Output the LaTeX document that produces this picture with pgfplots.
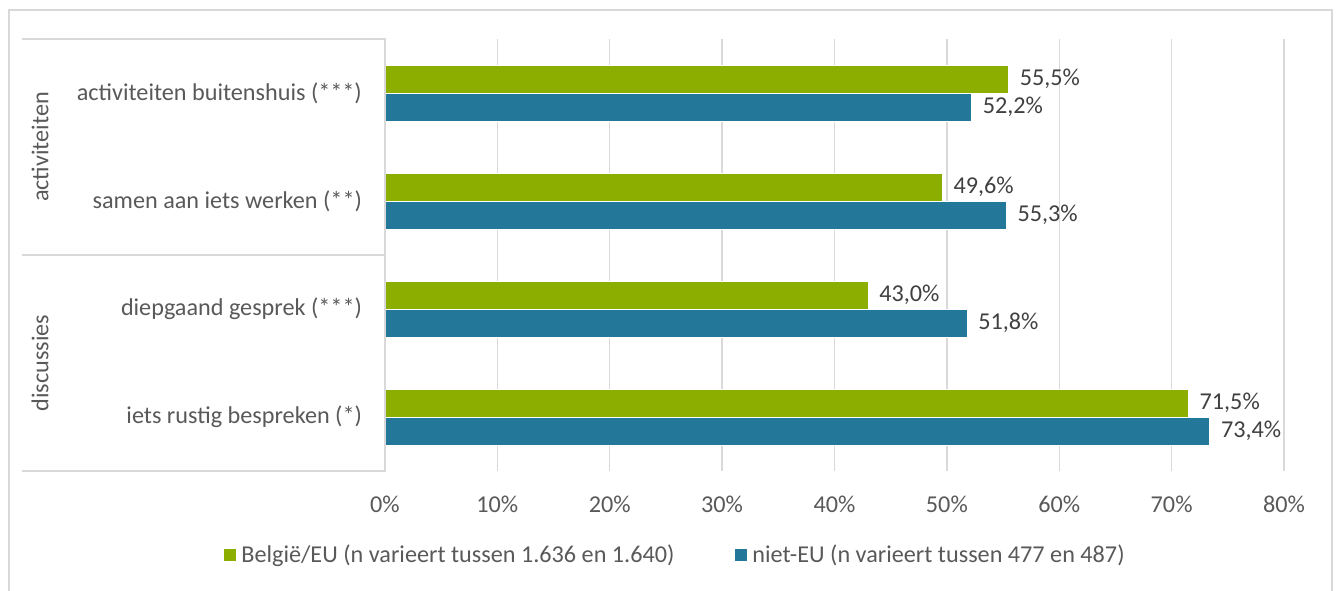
\documentclass[border=0pt]{standalone}
\usepackage{pgfplots}
\pgfplotsset{compat=1.18}
\usepackage{fontspec}
\setmainfont{Carlito}
\definecolor{cgreen}{HTML}{8BAE00}
\definecolor{cblue}{HTML}{237799}
\definecolor{ctext}{HTML}{595959}
\definecolor{clabel}{HTML}{404040}
\definecolor{cgrid}{HTML}{D9D9D9}
\newcommand{\cfont}{\fontsize{12.1}{14.5}\selectfont}
\begin{document}
\begin{tikzpicture}
\begin{axis}[
  xbar,
  scale only axis,
  width=449.5pt, height=216pt,
  xmin=0, xmax=80,
  ymin=-0.5, ymax=3.5,
  bar width=14pt,
  xtick={0,10,...,80},
  xticklabels={0\%,10\%,20\%,30\%,40\%,50\%,60\%,70\%,80\%},
  ytick={0,1,2,3},
  yticklabels={iets rustig bespreken (*), diepgaand gesprek (***), samen aan iets werken (**), activiteiten buitenshuis (***)},
  major tick length=0pt,
  axis line style={draw=none},
  xmajorgrids,
  major grid style={cgrid, line width=0.75pt},
  tick label style={font=\cfont, text=ctext},
  xticklabel style={yshift=-9pt},
  yticklabel style={xshift=-8pt},
  clip=false,
  point meta=x,
  nodes near coords={\pgfmathprintnumber[fixed,fixed zerofill,precision=1,use comma,assume math mode=true]{\pgfplotspointmeta}\%},
  nodes near coords align=horizontal,
  every node near coord/.append style={font=\cfont, text=clabel, anchor=west, xshift=2pt},
  legend columns=2,
  legend cell align=left,
  legend image code/.code={\fill[#1] (0pt,-3.25pt) rectangle (6.5pt,3.25pt);},
  legend style={draw=none, fill=none, at={(axis description cs:0.3237,-0.1944)}, anchor=center, font=\cfont, text=ctext,
    /tikz/every even column/.append style={column sep=28pt}},
]
\addplot[fill=cgreen, draw=white, line width=0.5pt, bar shift=7pt] coordinates {(71.5,0) (43.0,1) (49.6,2) (55.5,3)};
\addlegendentry{België/EU (n varieert tussen 1.636 en 1.640)}
\addplot[fill=cblue, draw=white, line width=0.5pt, bar shift=-7pt] coordinates {(73.4,0) (51.8,1) (55.3,2) (52.2,3)};
\addlegendentry{niet-EU (n varieert tussen 477 en 487)}
\coordinate (bl) at (rel axis cs:0,0);
\coordinate (tl) at (rel axis cs:0,1);
\coordinate (tr) at (rel axis cs:1,1);
\coordinate (br) at (rel axis cs:1,0);
\draw[cgrid, line width=0.75pt] ([xshift=-181.5pt]rel axis cs:0,1) -- (rel axis cs:0,1) -- (rel axis cs:0,0) -- ([xshift=-181.5pt]rel axis cs:0,0);
\draw[cgrid, line width=0.75pt] ([xshift=-181.5pt]axis cs:0,1.5) -- (axis cs:0,1.5);
\node[rotate=90, font=\cfont, text=ctext] at ([xshift=-172.5pt]axis cs:0,2.5) {activiteiten};
\node[rotate=90, font=\cfont, text=ctext] at ([xshift=-172.5pt]axis cs:0,0.5) {discussies};
\end{axis}
\draw[cgrid, line width=1pt] ([xshift=-188pt,yshift=-62pt]bl) -- ([xshift=-188pt,yshift=14.5pt]tl) -- ([xshift=24pt,yshift=14.5pt]tr) -- ([xshift=24pt,yshift=-62pt]br);
\pgfresetboundingbox
\path[use as bounding box] ([xshift=-192.5pt,yshift=-59.5pt]bl) rectangle ([xshift=27pt,yshift=19.5pt]tr);
\end{tikzpicture}
\end{document}
